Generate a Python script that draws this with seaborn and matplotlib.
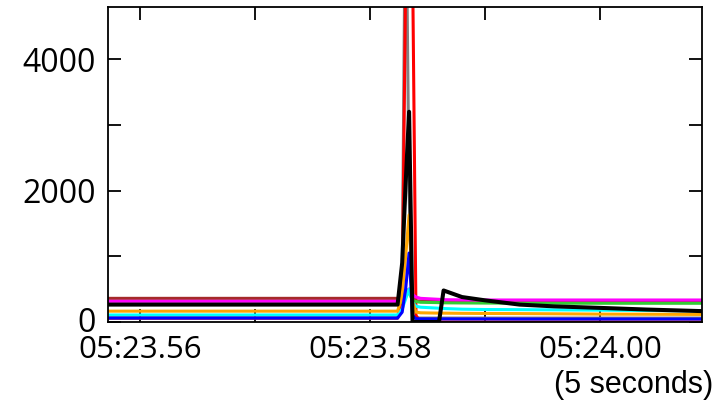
import numpy as np
import pandas as pd
import seaborn as sns
from matplotlib import pyplot as plt
from matplotlib import transforms
from matplotlib.ticker import FixedLocator

sns.set_style("ticks")
plt.rcParams['font.family'] = ['Open Sans', 'DejaVu Sans']
plt.rcParams['text.color'] = 'black'
plt.rcParams['xtick.color'] = 'black'
plt.rcParams['ytick.color'] = 'black'
# -------------------------------------
# time axis in frames (0 = 05:23.56)
t = [-0.3, 2.24, 2.28, 2.31, 2.34, 2.37, 2.40, 2.44, 2.60, 2.64, 2.80, 3.00, 3.30, 3.60, 4.00, 4.40, 4.90]

grey    = [60, 60, 500, 7000, 2000, 60, 60, 60, 60, 60, 60, 60, 60, 60, 60, 60, 60]
red     = [60, 60, 300, 5200, 9000, 5500, 100, 0, 0, 0, 0, 0, 0, 0, 0, 0, 0]
brown   = [360, 360, 380, 450, 500, 350, 320, 320, 320, 320, 320, 320, 320, 320, 320, 320, 320]
green   = [270, 270, 300, 400, 450, 330, 310, 300, 295, 292, 290, 288, 287, 286, 285, 285, 285]
magenta = [315, 315, 330, 400, 500, 420, 380, 360, 345, 340, 337, 335, 335, 335, 335, 335, 335]
cyan    = [107, 107, 200, 350, 500, 300, 240, 225, 210, 205, 195, 190, 188, 185, 180, 175, 170]
orange  = [165, 165, 400, 1000, 1630, 300, 150, 140, 135, 135, 132, 130, 128, 125, 120, 118, 115]
blue    = [60, 60, 150, 500, 1050, 100, 50, 48, 47, 47, 46, 46, 45, 45, 45, 45, 45]
black   = [265, 265, 900, 2100, 3200, 0, 0, 0, 0, 480, 380, 330, 265, 238, 215, 190, 165]

series = [("grey", grey, "#808080"), ("red", red, "#ff0000"), ("brown", brown, "#a52a2a"),
          ("green", green, "#33cc33"), ("magenta", magenta, "#ff00ff"), ("cyan", cyan, "#00ffff"),
          ("orange", orange, "#ffa500"), ("blue", blue, "#0000ff"), ("black", black, "#000000")]

xticks = [0, 2, 4]
xticklabels = ["05:23.56", "05:23.58", "05:24.00"]
yticks = [0, 2000, 4000]
# -------------------------------------
fh = plt.figure(figsize=(7.28, 4.04), dpi=100)
ah = fh.add_axes([108/728, 1-322/404, (702-108)/728, (322-7.3)/404])

for name, vals, col in series:
    lw = 2.9 if name == "black" else 2.2
    df = pd.DataFrame({"t": t, "v": vals})
    sns.lineplot(data=df, x="t", y="v", color=col, linewidth=lw, ax=ah,
                 estimator=None, sort=False, legend=False)

ah.set_xlim(-0.278, 4.887)
ah.set_ylim(0, 4790)
ah.set_xlabel("")
ah.set_ylabel("")
ah.set_xticks(xticks)
ah.set_xticklabels(xticklabels)
ah.set_yticks(yticks)
ah.set_yticklabels([str(v) for v in yticks])
ah.xaxis.set_minor_locator(FixedLocator([1, 3]))
ah.yaxis.set_minor_locator(FixedLocator([1000, 3000]))
ah.tick_params(axis="both", which="both", direction="in", length=9.5, width=1.3,
               colors="k", top=True, right=True)
ah.tick_params(axis="x", which="major", pad=9, labelsize=22.5)
ah.tick_params(axis="y", which="major", pad=9, labelsize=23)
for sp in ah.spines.values():
    sp.set_visible(True)
    sp.set_linewidth(1.3)
    sp.set_color("k")

# nudge the "0" label up slightly, as in the reference it sits just above the time labels
lbl0 = ah.get_yticklabels()[0]
lbl0.set_transform(lbl0.get_transform() + transforms.ScaledTranslation(0, 2/100, fh.dpi_scale_trans))

fh.text(713/728, 1-385/404, "(5 seconds)", ha="right", va="center", fontsize=22,
        color="black", family=["Liberation Sans", "DejaVu Sans"])

fh.savefig("out.png", dpi=100)
